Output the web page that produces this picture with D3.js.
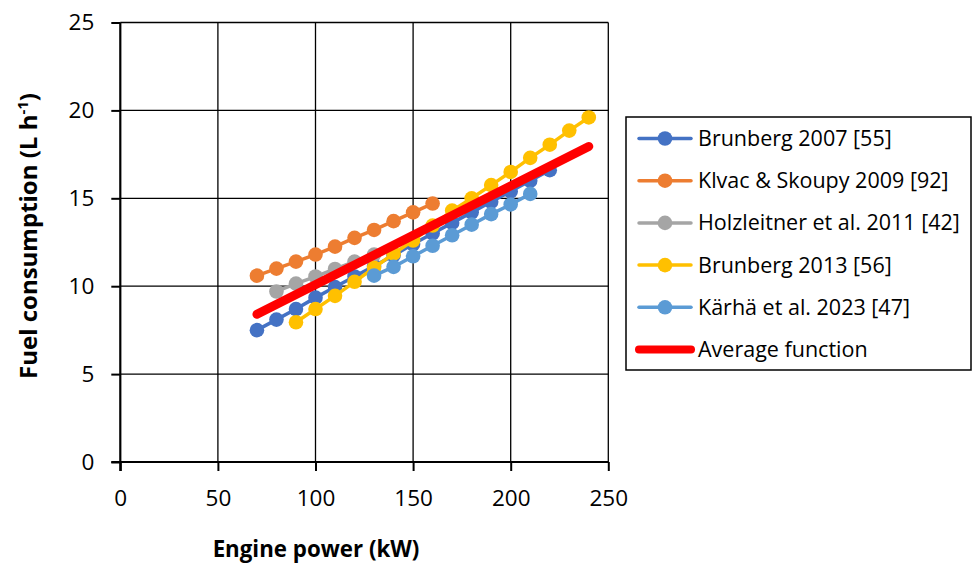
<!DOCTYPE html>
<html>
<head>
<meta charset="utf-8">
<script src="https://cdn.jsdelivr.net/npm/d3@7/dist/d3.min.js"></script>
<style>
  html, body { margin: 0; padding: 0; background: #fff; }
  svg { display: block; }
  text { font-family: "Open Sans", "Noto Sans", sans-serif; fill: #000; }
</style>
</head>
<body>
<svg id="chart" width="972" height="567"></svg>
<script>
// ---- data ----
const brunberg2007X = [70, 80, 90, 100, 110, 120, 130, 140, 150, 160, 170, 180, 190, 200, 210, 220];
const brunberg2007Y = [7.5, 8.1, 8.7, 9.35, 9.95, 10.55, 11.15, 11.75, 12.4, 13.0, 13.6, 14.2, 14.8, 15.4, 16.0, 16.6];

const klvacX = [70, 80, 90, 100, 110, 120, 130, 140, 150, 160];
const klvacY = [10.6, 11.0, 11.4, 11.8, 12.25, 12.75, 13.2, 13.7, 14.2, 14.7];

const holzleitnerX = [80, 90, 100, 110, 120, 130];
const holzleitnerY = [9.7, 10.15, 10.55, 10.98, 11.4, 11.8];

const brunberg2013X = [90, 100, 110, 120, 130, 140, 150, 160, 170, 180, 190, 200, 210, 220, 230, 240];
const brunberg2013Y = [7.95, 8.7, 9.45, 10.25, 11.05, 11.85, 12.6, 13.45, 14.3, 15.0, 15.75, 16.5, 17.3, 18.05, 18.85, 19.6];

const karhaX = [130, 140, 150, 160, 170, 180, 190, 200, 210];
const karhaY = [10.6, 11.1, 11.7, 12.3, 12.9, 13.5, 14.1, 14.65, 15.25];

const averageX = [70, 240];
const averageY = [8.4, 17.95];

const seriesNames = ["Brunberg 2007 [55]", "Klvac & Skoupy 2009 [92]", "Holzleitner et al. 2011 [42]", "Brunberg 2013 [56]", "Kärhä et al. 2023 [47]", "Average function"];
const seriesColors = ["#4472C4", "#ED7D31", "#A5A5A5", "#FFC000", "#5B9BD5", "#FF0000"];

const xTicks = [0, 50, 100, 150, 200, 250];
const yTicks = [0, 5, 10, 15, 20, 25];

const series = [
  {x: brunberg2007X, y: brunberg2007Y},
  {x: klvacX, y: klvacY},
  {x: holzleitnerX, y: holzleitnerY},
  {x: brunberg2013X, y: brunberg2013Y},
  {x: karhaX, y: karhaY},
  {x: averageX, y: averageY}
].map((s, i) => ({
  name: seriesNames[i],
  color: seriesColors[i],
  avg: i === 5,
  pts: s.x.map((v, j) => [v, s.y[j]])
}));

// ---- layout ----
const svg = d3.select("#chart");
const pLeft = 120.3, pRight = 608.3, pTop = 22.5, pBottom = 462;
const x = d3.scaleLinear().domain([0, 250]).range([pLeft, pRight]);
const y = d3.scaleLinear().domain([0, 25]).range([pBottom, pTop]);

// grid
const grid = svg.append("g");
grid.selectAll("line.v").data(xTicks.slice(1)).join("line")
  .attr("x1", d => x(d)).attr("x2", d => x(d))
  .attr("y1", y(0)).attr("y2", y(25))
  .attr("stroke", "#000").attr("stroke-width", 1.3);
grid.selectAll("line.h").data(yTicks.slice(1)).join("line")
  .attr("x1", x(0)).attr("x2", x(250))
  .attr("y1", d => y(d)).attr("y2", d => y(d))
  .attr("stroke", "#000").attr("stroke-width", 1.3);

// axes
const xAxis = d3.axisBottom(x).tickValues(xTicks).tickSize(9).tickPadding(19).tickFormat(d3.format("d"));
const yAxis = d3.axisLeft(y).tickValues(yTicks).tickSize(9).tickPadding(17).tickFormat(d3.format("d"));

const gx = svg.append("g").attr("transform", `translate(0,${pBottom})`).call(xAxis);
const gy = svg.append("g").attr("transform", `translate(${pLeft},0)`).call(yAxis);
[gx, gy].forEach(g => {
  g.select(".domain").attr("stroke", "#000").attr("stroke-width", 2.2);
  g.selectAll(".tick line").attr("stroke", "#000").attr("stroke-width", 2);
  g.selectAll(".tick text").attr("font-size", 22.5).attr("font-family", "'Open Sans', sans-serif").attr("fill", "#000");
});
gx.select(".domain").attr("d", `M${pLeft - 9},0H${pRight}`);
gy.select(".domain").attr("d", `M0,${pTop}V${pBottom + 9}`);

// series
const line = d3.line().x(d => x(d[0])).y(d => y(d[1]));
const plot = svg.append("g");
series.forEach(s => {
  const g = plot.append("g");
  g.append("path").attr("d", line(s.pts))
    .attr("fill", "none").attr("stroke", s.color)
    .attr("stroke-width", s.avg ? 9 : 3.5)
    .attr("stroke-linecap", "round").attr("stroke-linejoin", "round");
  if (!s.avg) {
    g.selectAll("circle").data(s.pts).join("circle")
      .attr("cx", d => x(d[0])).attr("cy", d => y(d[1]))
      .attr("r", 7.3).attr("fill", s.color);
  }
});

// axis titles
svg.append("text").attr("x", 316).attr("y", 557)
  .attr("text-anchor", "middle").attr("font-weight", "bold").attr("font-size", 22.3)
  .text("Engine power (kW)");

const yt = svg.append("text")
  .attr("transform", "translate(37,236) rotate(-90)")
  .attr("text-anchor", "middle").attr("font-weight", "bold").attr("font-size", 24);
yt.append("tspan").text("Fuel consumption (L h");
yt.append("tspan").attr("font-size", 15).attr("dy", -9).text("-1");
yt.append("tspan").attr("dy", 9).text(")");

// legend
const lg = svg.append("g");
lg.append("rect").attr("x", 626).attr("y", 117).attr("width", 345).attr("height", 253)
  .attr("fill", "#fff").attr("stroke", "#000").attr("stroke-width", 1.5);
series.forEach((s, i) => {
  const cy = 138.5 + i * 42.2;
  lg.append("line").attr("x1", 639).attr("x2", 691).attr("y1", cy).attr("y2", cy)
    .attr("stroke", s.color).attr("stroke-width", s.avg ? 8 : 3.5)
    .attr("stroke-linecap", "round");
  if (!s.avg) lg.append("circle").attr("cx", 665).attr("cy", cy).attr("r", 7.3).attr("fill", s.color);
  lg.append("text").attr("x", 698).attr("y", cy).attr("dy", "0.35em")
    .attr("font-size", 21.5).text(s.name);
});
</script>
</body>
</html>
